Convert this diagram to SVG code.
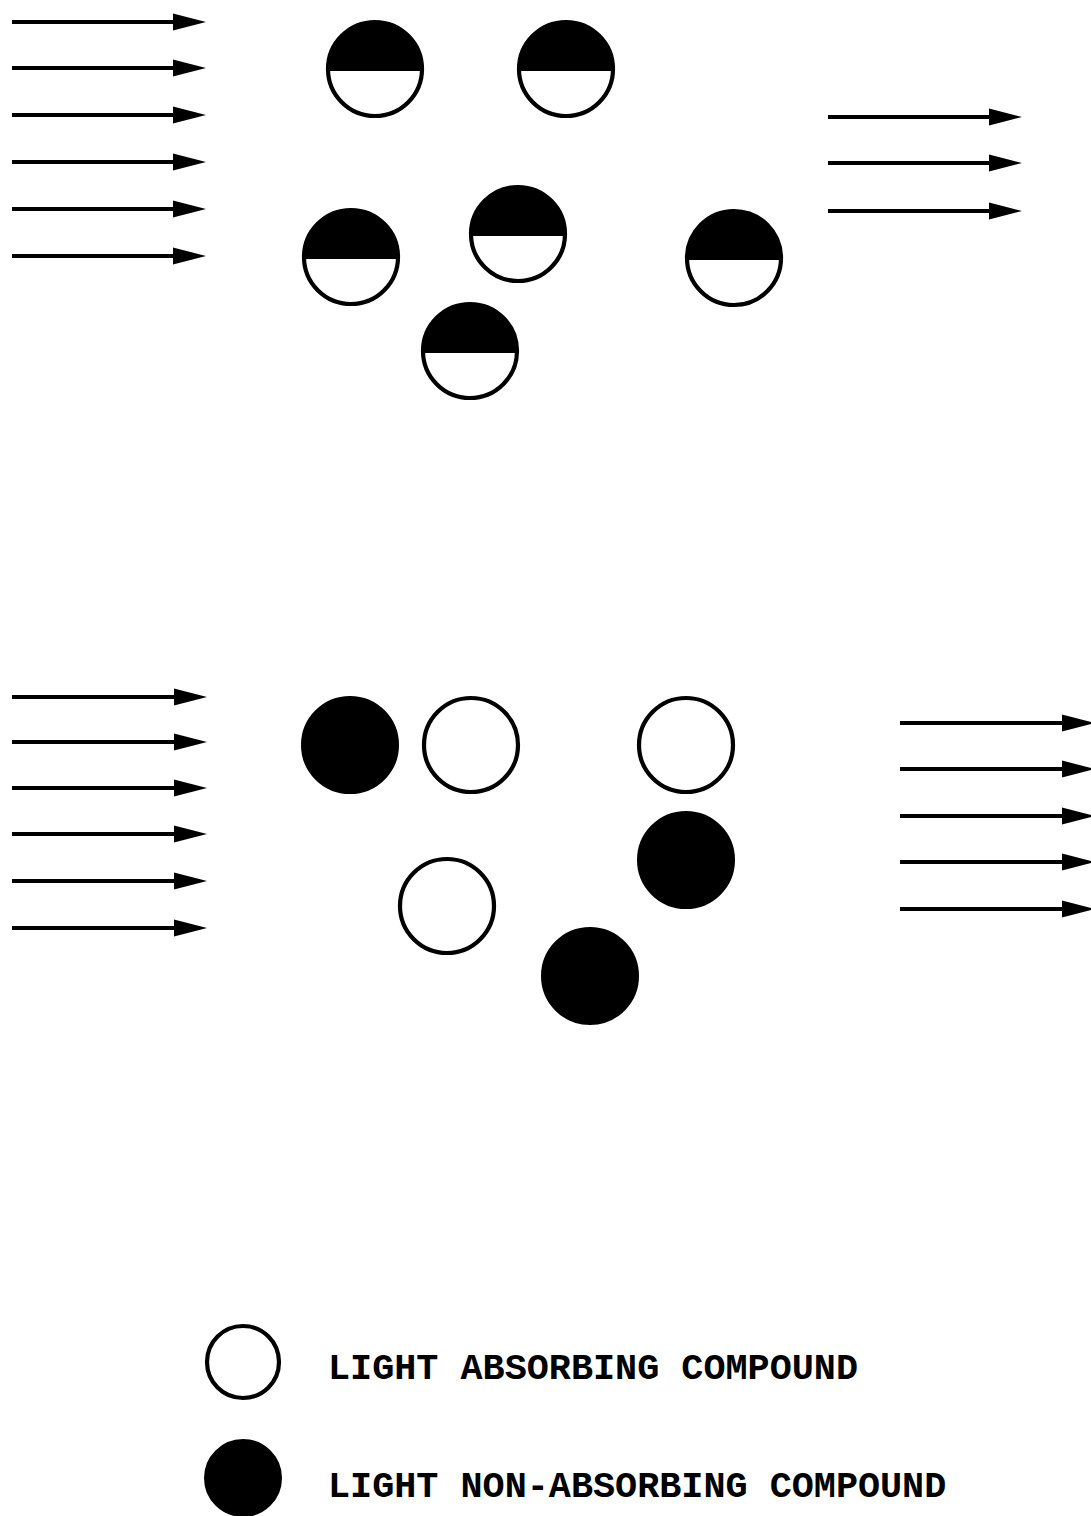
<svg xmlns="http://www.w3.org/2000/svg" xmlns:xlink="http://www.w3.org/1999/xlink" width="1091" height="1516" viewBox="0 0 1091 1516">
<style>
.ray{stroke:#000;stroke-width:3.8;fill:none;marker-end:url(#head)}
.open{fill:#fff;stroke:#000;stroke-width:4.2}
.solid{fill:#000;stroke:#000;stroke-width:2}
.cap{fill:#000}
.lbl{font-family:"Liberation Mono","Courier New",monospace;font-weight:bold;font-size:36.8px;fill:#000}
</style>
<defs>
<marker id="head" markerUnits="userSpaceOnUse" markerWidth="34" markerHeight="18" refX="0" refY="8.5" orient="auto" overflow="visible">
<path d="M0,0 L33,8.5 L0,17 Z" fill="#000"/>
</marker>
<g id="half">
<circle r="47" class="open"/>
<path d="M-48,2 A48,48 0 1,1 48,2 Z" class="cap"/>
</g>
</defs>
<rect width="1091" height="1516" fill="#fff"/>
<g id="connectors">
<line class="ray" x1="12" y1="22" x2="173" y2="22"/>
<line class="ray" x1="12" y1="68" x2="173" y2="68"/>
<line class="ray" x1="12" y1="115" x2="173" y2="115"/>
<line class="ray" x1="12" y1="162" x2="173" y2="162"/>
<line class="ray" x1="12" y1="209" x2="173" y2="209"/>
<line class="ray" x1="12" y1="256" x2="173" y2="256"/>
<line class="ray" x1="828" y1="117" x2="989" y2="117"/>
<line class="ray" x1="828" y1="163" x2="989" y2="163"/>
<line class="ray" x1="828" y1="211" x2="989" y2="211"/>
<line class="ray" x1="12" y1="697" x2="174" y2="697"/>
<line class="ray" x1="12" y1="742" x2="174" y2="742"/>
<line class="ray" x1="12" y1="788" x2="174" y2="788"/>
<line class="ray" x1="12" y1="834" x2="174" y2="834"/>
<line class="ray" x1="12" y1="881" x2="174" y2="881"/>
<line class="ray" x1="12" y1="928" x2="174" y2="928"/>
<line class="ray" x1="900" y1="723" x2="1062" y2="723"/>
<line class="ray" x1="900" y1="769" x2="1062" y2="769"/>
<line class="ray" x1="900" y1="816" x2="1062" y2="816"/>
<line class="ray" x1="900" y1="862" x2="1062" y2="862"/>
<line class="ray" x1="900" y1="909" x2="1062" y2="909"/>
</g>
<g id="top-particles">
<use id="t1" xlink:href="#half" x="375" y="69"/>
<use id="t2" xlink:href="#half" x="566" y="69"/>
<use id="t3" xlink:href="#half" x="351" y="257"/>
<use id="t4" xlink:href="#half" x="518" y="234"/>
<use id="t5" xlink:href="#half" x="470" y="351"/>
<use id="t6" xlink:href="#half" x="734" y="258"/>
</g>
<g id="bottom-particles">
<circle id="b1" class="solid" cx="350" cy="745" r="48"/>
<circle id="b2" class="open" cx="471" cy="745" r="47"/>
<circle id="b3" class="open" cx="686" cy="745" r="47"/>
<circle id="b4" class="solid" cx="686" cy="860" r="48"/>
<circle id="b5" class="open" cx="447" cy="906" r="47"/>
<circle id="b6" class="solid" cx="590" cy="976" r="48"/>
</g>
<g id="legend-absorbing">
<circle class="open" cx="243" cy="1362" r="36"/>
<text class="lbl" x="328" y="1379">LIGHT ABSORBING COMPOUND</text>
</g>
<g id="legend-non-absorbing">
<circle class="solid" cx="243" cy="1478" r="38"/>
<text class="lbl" x="328" y="1497">LIGHT NON-ABSORBING COMPOUND</text>
</g>
</svg>
